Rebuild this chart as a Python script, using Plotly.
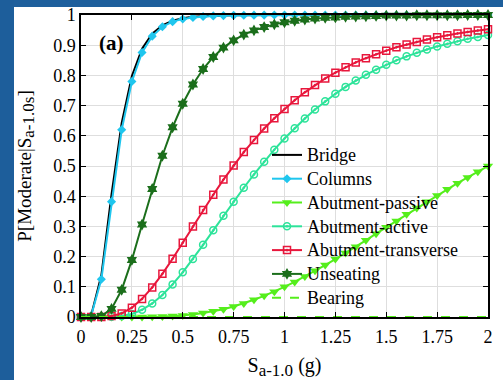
import plotly.graph_objects as go

x_vals = [0.0, 0.05, 0.1, 0.15, 0.2, 0.25, 0.3, 0.35, 0.4, 0.45, 0.5, 0.55, 0.6, 0.65, 0.7,
          0.75, 0.8, 0.85, 0.9, 0.95, 1.0, 1.05, 1.1, 1.15, 1.2, 1.25, 1.3, 1.35, 1.4, 1.45,
          1.5, 1.55, 1.6, 1.65, 1.7, 1.75, 1.8, 1.85, 1.9, 1.95, 2.0]

bridge = [0, 0.006, 0.138, 0.406, 0.643, 0.798, 0.888, 0.938, 0.966, 0.981, 0.989, 0.994,
          0.996, 0.998, 0.9986, 0.9991, 0.9995, 0.9997, 0.9998, 0.9999,
          1, 1, 1, 1, 1, 1, 1, 1, 1, 1, 1, 1, 1, 1, 1, 1, 1, 1, 1, 1, 1]

columns = [0, 0.005, 0.125, 0.382, 0.62, 0.78, 0.876, 0.930, 0.961, 0.978, 0.987, 0.992,
           0.995, 0.997, 0.998, 0.9989, 0.9993, 0.9995, 0.9997, 0.9998, 0.9999,
           1, 1, 1, 1, 1, 1, 1, 1, 1, 1, 1, 1, 1, 1, 1, 1, 1, 1, 1, 1]

abut_passive = [0, 0, 0, 0, 0, 0, 0.0002, 0.0006, 0.0014, 0.003, 0.005, 0.008, 0.013, 0.019,
                0.026, 0.035, 0.045, 0.057, 0.070, 0.084, 0.100, 0.116, 0.134, 0.153, 0.172,
                0.192, 0.212, 0.233, 0.254, 0.276, 0.297, 0.318, 0.340, 0.361, 0.382, 0.402,
                0.423, 0.443, 0.462, 0.481, 0.500]

abut_active = [0, 0, 0, 0.0006, 0.003, 0.010, 0.024, 0.045, 0.073, 0.108, 0.148, 0.192, 0.239,
               0.287, 0.335, 0.382, 0.428, 0.472, 0.514, 0.554, 0.591, 0.625, 0.657, 0.687,
               0.714, 0.739, 0.762, 0.783, 0.802, 0.819, 0.835, 0.850, 0.863, 0.875, 0.886,
               0.896, 0.905, 0.913, 0.921, 0.927, 0.934]

abut_transverse = [0, 0, 0.0003, 0.003, 0.012, 0.031, 0.060, 0.098, 0.143, 0.193, 0.246, 0.300,
                   0.354, 0.405, 0.455, 0.502, 0.546, 0.586, 0.624, 0.658, 0.689, 0.718, 0.744,
                   0.768, 0.790, 0.809, 0.827, 0.843, 0.857, 0.870, 0.882, 0.893, 0.902, 0.911,
                   0.919, 0.926, 0.933, 0.939, 0.944, 0.949, 0.953]

unseating = [0, 0, 0.003, 0.027, 0.090, 0.189, 0.306, 0.424, 0.534, 0.628, 0.706, 0.770, 0.821,
             0.861, 0.892, 0.916, 0.935, 0.949, 0.960, 0.969, 0.976, 0.981, 0.985, 0.988, 0.991,
             0.992, 0.994, 0.995, 0.996, 0.997, 0.998, 0.998, 0.998, 0.999, 0.999, 0.999, 0.999,
             0.999, 1.0, 1.0, 1.0]

bearing = [0] * 41

series_names = ["Bridge", "Columns", "Abutment-passive", "Abutment-active",
                "Abutment-transverse", "Unseating", "Bearing"]

x_ticks = [0, 0.25, 0.5, 0.75, 1, 1.25, 1.5, 1.75, 2]
x_ticktext = ["0", "0.25", "0.5", "0.75", "1", "1.25", "1.5", "1.75", "2"]
y_ticks = [0, 0.1, 0.2, 0.3, 0.4, 0.5, 0.6, 0.7, 0.8, 0.9, 1]
y_ticktext = ["0", "0.1", "0.2", "0.3", "0.4", "0.5", "0.6", "0.7", "0.8", "0.9", "1"]

FONT = "Liberation Serif, Times New Roman, serif"
C_COL = "#1fc6ee"
C_PAS = "#55ee1c"
C_ACT = "#2de39a"
C_TRA = "#e8173c"
C_UNS = "#1b6e1b"
C_FRAME_LEFT = "#1d5e9b"
C_FRAME_TOP = "#1e5f9c"

W, H = 503, 380
ML, MR, MT, MB = 81, 15, 15, 63
PW, PH = W - ML - MR, H - MT - MB


def px_to_paper_x(px):
    return (px - ML) / PW


def py_to_paper_y(py):
    return (H - MB - py) / PH


def leg(name):
    return '<span style="font-size:18px">' + name + '</span>'


fig = go.Figure()
fig.add_trace(go.Scatter(x=x_vals, y=bridge, name=leg(series_names[0]), mode="lines",
                         line=dict(color="black", width=2), cliponaxis=False))
fig.add_trace(go.Scatter(x=x_vals, y=columns, name=leg(series_names[1]), mode="lines+markers",
                         line=dict(color=C_COL, width=2),
                         marker=dict(symbol="diamond", size=7, color=C_COL), cliponaxis=False))
fig.add_trace(go.Scatter(x=x_vals, y=abut_passive, name=leg(series_names[2]), mode="lines+markers",
                         line=dict(color=C_PAS, width=2),
                         marker=dict(symbol="triangle-down", size=9, color=C_PAS), cliponaxis=False))
fig.add_trace(go.Scatter(x=x_vals, y=abut_active, name=leg(series_names[3]), mode="lines+markers",
                         line=dict(color=C_ACT, width=2),
                         marker=dict(symbol="circle-open-dot", size=7, color=C_ACT,
                                     line=dict(width=1.5, color=C_ACT)), cliponaxis=False))
fig.add_trace(go.Scatter(x=x_vals, y=abut_transverse, name=leg(series_names[4]), mode="lines+markers",
                         line=dict(color=C_TRA, width=2),
                         marker=dict(symbol="square-open-dot", size=7, color=C_TRA,
                                     line=dict(width=1.5, color=C_TRA)), cliponaxis=False))
fig.add_trace(go.Scatter(x=x_vals, y=unseating, name=leg(series_names[5]), mode="lines+markers",
                         line=dict(color=C_UNS, width=2),
                         marker=dict(symbol="hexagram", size=9, color=C_UNS), cliponaxis=False))
fig.add_trace(go.Scatter(x=x_vals, y=bearing, name=leg(series_names[6]), mode="lines",
                         line=dict(color=C_PAS, width=2, dash="dash"), cliponaxis=False))

axis_common = dict(showline=True, linecolor="black", linewidth=1.5, mirror="ticks",
                   ticks="inside", ticklen=5, tickcolor="black", showgrid=True,
                   gridcolor="#dedede", gridwidth=1, zeroline=False, automargin=False,
                   tickfont=dict(family=FONT, size=18, color="black"))

fig.update_xaxes(range=[0, 2], tickmode="array", tickvals=x_ticks, ticktext=x_ticktext,
                 ticklabelstandoff=3,
                 title=dict(text='S<sub><span style="font-size:17px">a-1.0</span></sub> (g)',
                            font=dict(family=FONT, size=20, color="black"), standoff=16),
                 **axis_common)
fig.update_yaxes(range=[0, 1], tickmode="array", tickvals=y_ticks, ticktext=y_ticktext,
                 title=dict(text='P[Moderate|S<sub><span style="font-size:17px">a-1.0s</span></sub>]',
                            font=dict(family=FONT, size=19, color="black"), standoff=17),
                 **axis_common)

fig.add_annotation(x=px_to_paper_x(111), y=py_to_paper_y(43), xref="paper", yref="paper",
                   xanchor="center", yanchor="middle",
                   text="<b>(a)</b>", showarrow=False,
                   font=dict(family=FONT, size=21, color="black"))

# blue frame strips on the left and top edges of the page
fig.add_shape(type="rect", xref="paper", yref="paper",
              x0=px_to_paper_x(-5), x1=px_to_paper_x(14), y0=py_to_paper_y(H + 5), y1=py_to_paper_y(-5),
              fillcolor=C_FRAME_LEFT, line=dict(width=0), layer="below")
fig.add_shape(type="rect", xref="paper", yref="paper",
              x0=px_to_paper_x(14), x1=px_to_paper_x(W + 5), y0=py_to_paper_y(7), y1=py_to_paper_y(-5),
              fillcolor=C_FRAME_TOP, line=dict(width=0), layer="below")

fig.update_layout(
    width=W, height=H,
    margin=dict(l=ML, r=MR, t=MT, b=MB, autoexpand=False),
    paper_bgcolor="white",
    plot_bgcolor="white",
    font=dict(family=FONT, size=18, color="black"),
    showlegend=True,
    legend=dict(x=px_to_paper_x(267), y=py_to_paper_y(138), xanchor="left", yanchor="top",
                bgcolor="rgba(0,0,0,0)", borderwidth=0,
                font=dict(family=FONT, size=16, color="black"),
                tracegroupgap=0, itemwidth=30),
)

fig.write_html("out.html", config={"displayModeBar": False},
               post_script="document.documentElement.style.overflow='hidden';"
                           "document.body.style.overflow='hidden';"
                           "document.body.style.margin='0';")
